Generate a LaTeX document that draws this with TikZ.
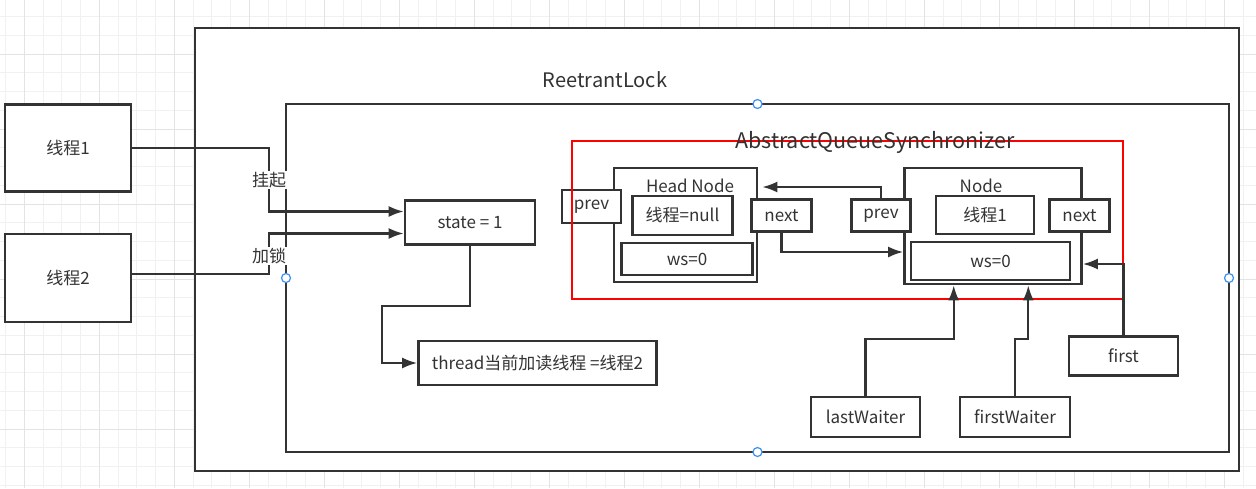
\documentclass[tikz,border=0pt]{standalone}
\usepackage{fontspec}
\newfontfamily\cjk{Noto Sans CJK SC}
\usetikzlibrary{arrows.meta}
\definecolor{ink}{HTML}{333333}
\definecolor{gridminor}{HTML}{F1F1F1}
\definecolor{gridmajor}{HTML}{E3E3E3}
\definecolor{handleblue}{HTML}{3D8FF0}
\tikzset{
  box/.style={draw=ink, line width=2.6pt, fill=white, text=ink, inner sep=0pt,
    font=\cjk\fontsize{17}{19}\selectfont},
  frame/.style={draw=ink, line width=2.6pt},
  conn/.style={draw=ink, line width=2.2pt, ->},
  lbl/.style={fill=white, text=ink, inner sep=1pt, font=\cjk\fontsize{17}{19}\selectfont},
  title/.style={text=ink, inner sep=0pt, font=\cjk\fontsize{20}{22}\selectfont},
  handle/.style={circle, draw=handleblue, fill=white, line width=1.2pt,
    minimum size=9pt, inner sep=0pt}
}
\begin{document}
\begin{tikzpicture}[x=1pt, y=-1pt, >={Latex[length=15pt,width=11pt]}]
    \useasboundingbox (0,0) rectangle (1256,488);
    % 1. Grid background
    \foreach \i in {0,...,66}
        \draw[gridminor, line width=1pt] (5.55+18.75*\i,0) -- (5.55+18.75*\i,488);
    \foreach \j in {0,...,26}
        \draw[gridminor, line width=1pt] (0,16.5+18.75*\j) -- (1256,16.5+18.75*\j);
    \foreach \i in {0,...,16}
        \draw[gridmajor, line width=1pt] (24.3+75*\i,0) -- (24.3+75*\i,488);
    \foreach \j in {0,...,6}
        \draw[gridmajor, line width=1pt] (0,54+75*\j) -- (1256,54+75*\j);

    % 2. ReetrantLock container
    \draw[frame, fill=white] (195,28) rectangle (1239,471);
    \node[title] (rlock) at (605,80) {ReetrantLock};
    \draw[frame] (286,104) rectangle (1229,452);

    % 3. Threads and state
    \node[box, minimum width=126, minimum height=87] (t1) at (68,148) {线程1};
    \node[box, minimum width=126, minimum height=88] (t2) at (68,278) {线程2};
    \node[box, minimum width=130, minimum height=44] (state) at (470,222.5) {state = 1};
    \node[box, minimum width=238, minimum height=44] (thr) at (537.5,363) {thread当前加读线程 =线程2};

    % 4. Head Node
    \node[box, minimum width=143, minimum height=114] (head) at (685.5,225) {};
    \node[title, font=\cjk\fontsize{17}{19}\selectfont] (headlbl) at (690,186) {Head Node};
    \node[box, minimum width=59, minimum height=33] (hprev) at (591.5,206.5) {prev};
    \node[box, minimum width=100, minimum height=39] (hnull) at (682.5,215.5) {线程=null};
    \node[box, minimum width=131, minimum height=32] (hws) at (687,259) {ws=0};
    \node[box, minimum width=60, minimum height=32] (hnext) at (781.5,215.5) {next};

    % 5. Node
    \node[box, minimum width=177, minimum height=116] (node) at (993,226) {};
    \node[title, font=\cjk\fontsize{17}{19}\selectfont] (nodelbl) at (981,186) {Node};
    \node[box, minimum width=59, minimum height=32] (nprev) at (881,215.5) {prev};
    \node[box, minimum width=98, minimum height=38] (n1) at (985,215) {线程1};
    \node[box, minimum width=60, minimum height=32] (nnext) at (1079.5,215.5) {next};
    \node[box, minimum width=159, minimum height=38] (nws) at (990.5,261) {ws=0};

    % 6. AQS frame
    \draw[red, line width=2.2pt] (572,141) rectangle (1123,299);
    \node[title, font=\cjk\fontsize{21.5}{23}\selectfont] (aqs) at (875,142) {AbstractQueueSynchronizer};

    % 7. Pointers
    \node[box, minimum width=109, minimum height=39] (first) at (1123.5,356) {first};
    \node[box, minimum width=109, minimum height=40] (lw) at (865.5,417) {lastWaiter};
    \node[box, minimum width=110, minimum height=40] (fw) at (1015,417) {firstWaiter};

    % 8. Connectors
    \draw[conn] (t1.east) -| node[lbl, pos=0.75] (hang) {挂起} (269,211.5)
        -- ([yshift=11pt]state.west);
    \draw[conn] ([yshift=4pt]t2.east) -| node[lbl, pos=0.72] (lock) {加锁} (269,233.5)
        -- ([yshift=-11pt]state.west);
    \draw[conn] (state.south) |- ++(-88.3,60) |- (thr.west);
    \draw[conn] (nprev.north) |- ([xshift=4pt, yshift=-1pt]head.north east |- 0,186);
    \draw[conn] (hnext.south) |- ([yshift=-26pt]node.west);
    \draw[conn] (first.north) |- ([yshift=-38pt]node.east);
    \draw[conn] (lw.north) |- ++(88.2,-57) -- ([xshift=-39.3pt]node.south);
    \draw[conn] (fw.north) |- ++(13.3,-57) -- ([xshift=35.3pt]node.south);

    % 9. Selection handles
    \node[handle] (htop) at (757.5,104) {};
    \node[handle] (hleft) at (286,278) {};
    \node[handle] (hbottom) at (757.5,452) {};
    \node[handle] (hright) at (1229,278) {};
\end{tikzpicture}
\end{document}
